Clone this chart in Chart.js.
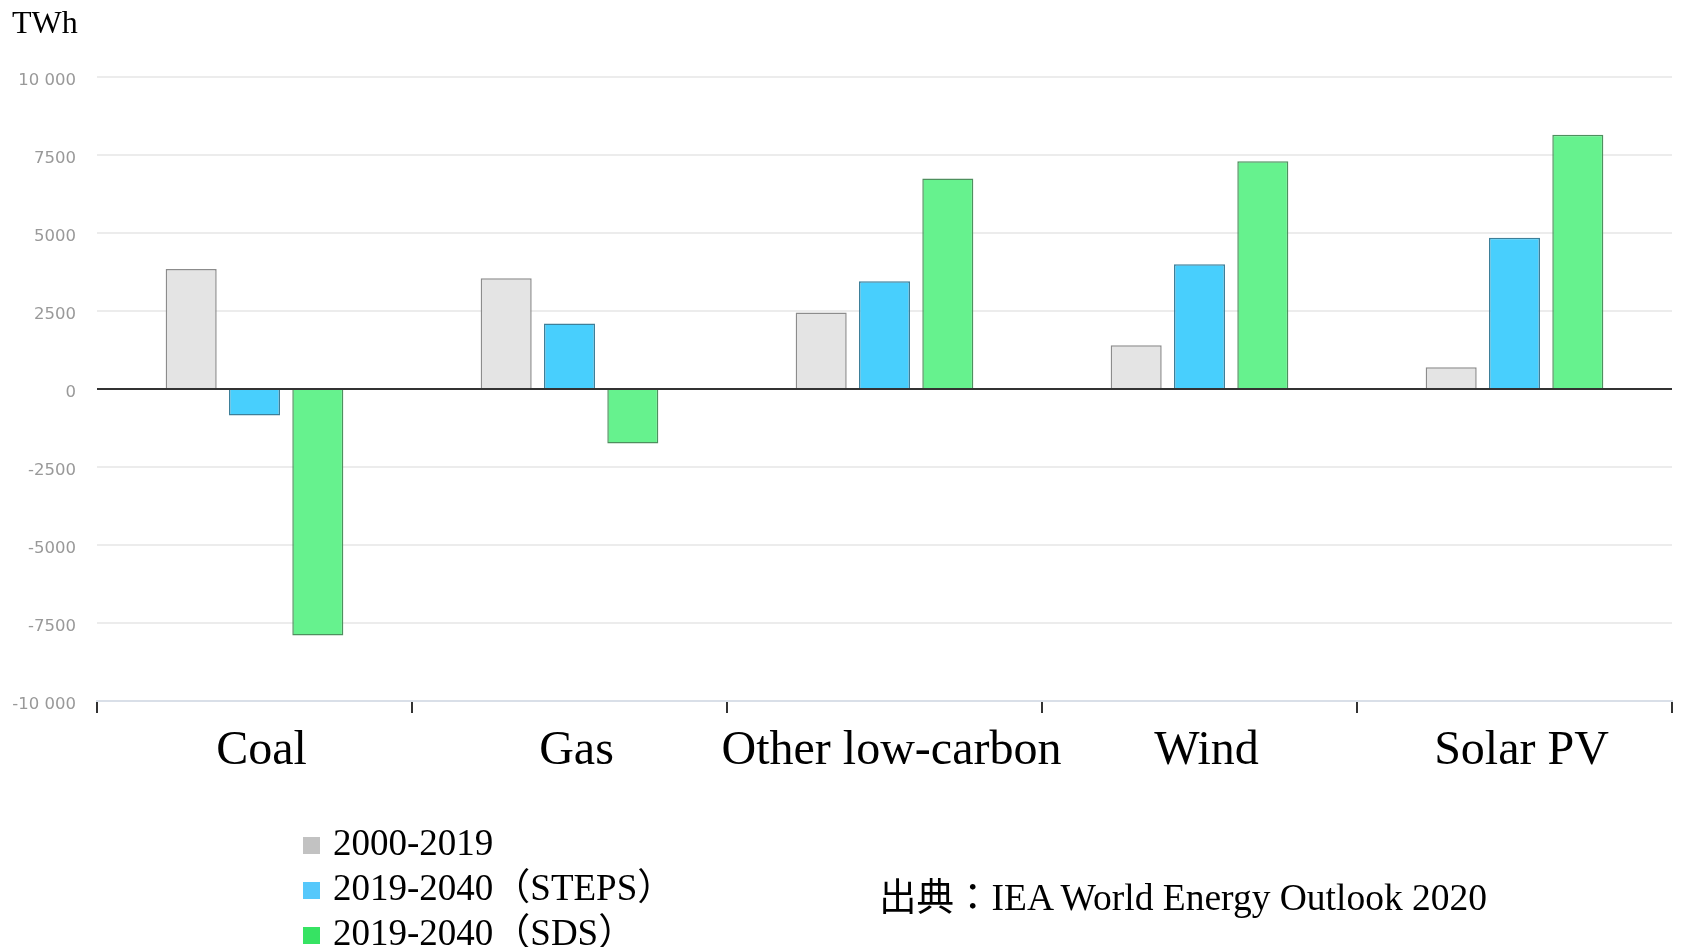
<!DOCTYPE html>
<html><head><meta charset="utf-8">
<script src="https://cdn.jsdelivr.net/npm/chart.js@4"></script>
<style>
html,body{margin:0;padding:0;background:#fff;}
#wrap{position:relative;width:1683px;height:947px;overflow:hidden;background:#fff;}
canvas{position:absolute;left:0;top:0;}
.t{position:absolute;font-family:"Liberation Serif","Times New Roman","Noto Sans CJK JP",serif;color:#000;white-space:nowrap;}
.sq{position:absolute;width:17px;height:17px;}
</style></head><body>
<div id="wrap">
<canvas id="c" width="1683" height="947"></canvas>
<div class="t" style="left:12px;top:6px;font-size:32px;line-height:32px;">TWh</div>
<div id="legend"></div>
<div class="t" style="left:879px;top:879px;font-size:37.5px;line-height:37.5px;">出典：IEA World Energy Outlook 2020</div>
</div>
<script>
const categories = ['Coal', 'Gas', 'Other low-carbon', 'Wind', 'Solar PV'];
const seriesNames = ['2000-2019', '2019-2040（STEPS）', '2019-2040（SDS）'];
const hist2000_2019 = [3850, 3550, 2450, 1400, 700];
const steps2019_2040 = [-850, 2100, 3450, 4000, 4850];
const sds2019_2040 = [-7900, -1750, 6750, 7300, 8150];
const tickValues = [10000, 7500, 5000, 2500, 0, -2500, -5000, -7500, -10000];
const tickLabels = ['10 000', '7500', '5000', '2500', '0', '-2500', '-5000', '-7500', '-10 000'];

const fills = ['#e4e4e4', '#48cffd', '#66f28e'];
const borders = ['#8c8c8c', '#3d7f99', '#4e8f5e'];
const legendColors = ['#c2c2c2', '#56c8fb', '#36e363'];

// HTML legend
const lg = document.getElementById('legend');
seriesNames.forEach((name, i) => {
  const sq = document.createElement('div');
  sq.className = 'sq';
  sq.style.left = '303px';
  sq.style.top = (837 + i * 45) + 'px';
  sq.style.background = legendColors[i];
  lg.appendChild(sq);
  const tx = document.createElement('div');
  tx.className = 't';
  tx.style.left = '333px';
  tx.style.top = (824 + i * 45) + 'px';
  tx.style.fontSize = '37px';
  tx.style.lineHeight = '37px';
  tx.textContent = name;
  lg.appendChild(tx);
});

const seriesData = [hist2000_2019, steps2019_2040, sds2019_2040];
const datasets = seriesData.map((d, i) => ({
  label: seriesNames[i],
  data: d,
  backgroundColor: fills[i],
  borderColor: borders[i],
  borderWidth: 1.5,
  categoryPercentage: 0.603,
  barPercentage: 0.806
}));

new Chart(document.getElementById('c').getContext('2d'), {
  type: 'bar',
  data: { labels: categories, datasets },
  options: {
    responsive: false,
    animation: false,
    devicePixelRatio: 1,
    layout: { padding: { top: 77, right: 11, left: 0, bottom: 0 } },
    plugins: { legend: { display: false }, tooltip: { enabled: false } },
    scales: {
      x: {
        grid: { drawOnChartArea: false, drawTicks: true, tickLength: 12, color: '#333', lineWidth: 2, offset: true },
        border: { display: true, color: '#d9dfe8', width: 2 },
        ticks: { font: { family: '"Liberation Serif", "Times New Roman", serif', size: 48, lineHeight: 1 }, color: '#000', padding: 14, labelOffset: 7, maxRotation: 0, autoSkip: false },
        afterFit(s) { s.height = 246; }
      },
      y: {
        min: -10000, max: 10000,
        afterBuildTicks(s) { s.ticks = tickValues.map(v => ({ value: v })); },
        grid: {
          color: c => (c.tick && c.tick.value === 0) ? '#333' : '#ececec',
          lineWidth: 2,
          drawTicks: false
        },
        border: { display: false },
        ticks: {
          callback: (v) => tickLabels[tickValues.indexOf(v)],
          color: '#999',
          font: { family: '"DejaVu Sans", sans-serif', size: 16.5 },
          padding: 21,
          labelOffset: 4
        },
        afterFit(s) { s.width = 97; }
      }
    }
  }
});
</script>
</body></html>
